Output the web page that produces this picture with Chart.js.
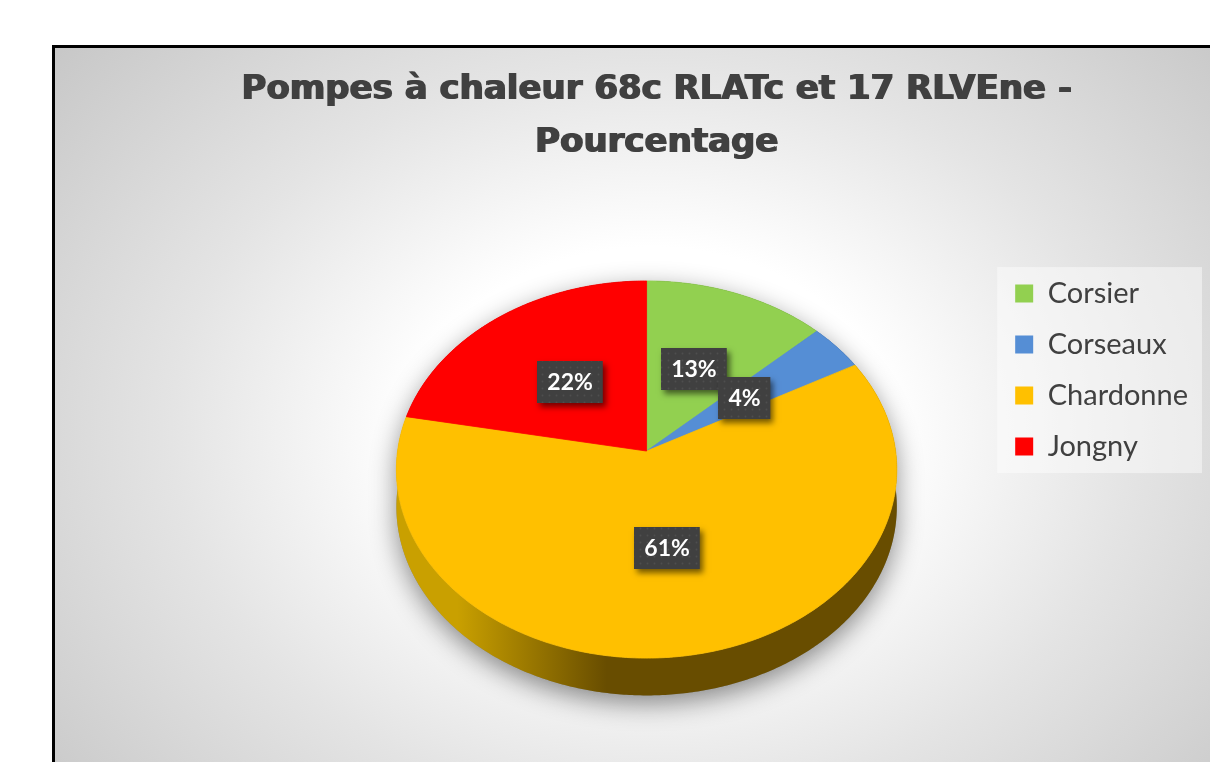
<!DOCTYPE html>
<html>
<head>
<meta charset="utf-8">
<title>Pompes à chaleur - Pourcentage</title>
<script src="https://cdn.jsdelivr.net/npm/chart.js@4.4.1/dist/chart.umd.min.js"></script>
<style>
  html, body { margin: 0; padding: 0; background: #fff; overflow: hidden; }
  #cadre {
    position: absolute; left: 52px; top: 45px; width: 1200px; height: 780px;
    box-sizing: border-box; border: 3px solid #000;
    background: radial-gradient(ellipse 800px 620px at 596px 385px, #fff 0%, #fff 30%, #e4e4e4 60%, #c5c5c5 100%);
  }
  #zone { position: absolute; left: 0; top: 0; width: 1210px; height: 762px; }
</style>
</head>
<body>
<div id="cadre"></div>
<div id="zone"><canvas id="camembert"></canvas></div>
<script>
// données
const communes     = ['Corsier', 'Corseaux', 'Chardonne', 'Jongny'];
const pourcentages = [13, 4, 61, 22];

// couleurs (dessus / flanc clair / flanc sombre)
const couleurs      = ['#92D050', '#558ED5', '#FFC000', '#FF0000'];
const flancClair    = ['#6F9F3D', '#3F6CA6', '#C9A000', '#C00000'];
const flancSombre   = ['#3F5E20', '#24406A', '#684D00', '#700000'];

// géométrie 3D (inclinaison, perspective, épaisseur) en fraction du rayon
const INCLINAISON = 0.75;
const PERSPECTIVE = 0.098;
const EPAISSEUR   = 0.15;

function projette(arc, angle, frac, chute) {
  const u = frac * Math.cos(angle);
  const v = -frac * Math.sin(angle);
  const d = 1 + PERSPECTIVE * v;
  return [arc.x + arc.outerRadius * u / d,
          arc.y - INCLINAISON * arc.outerRadius * v / d + chute];
}

function traceArc(ctx, arc, a0, a1, chute, premier) {
  const n = Math.max(2, Math.ceil(Math.abs(a1 - a0) / 0.01));
  for (let i = 0; i <= n; i++) {
    const p = projette(arc, a0 + (a1 - a0) * i / n, 1, chute);
    if (i === 0 && premier) ctx.moveTo(p[0], p[1]); else ctx.lineTo(p[0], p[1]);
  }
}

const motif = (() => {
  const c = document.createElement('canvas');
  c.width = 7; c.height = 7;
  const g = c.getContext('2d');
  g.fillStyle = '#404040'; g.fillRect(0, 0, 7, 7);
  g.fillStyle = '#4e4e4e'; g.beginPath(); g.arc(3.5, 3.5, 1, 0, Math.PI * 2); g.fill();
  return c;
})();

const camembert3d = {
  id: 'camembert3d',
  afterLayout(chart) {
    // titre centré sur tout le cadre, légende plus haut que le centre du camembert
    const tb = chart.titleBlock;
    tb.left = 102;
    tb.right = chart.width;
    if (!tb._epais) {
      // titre plus gras (type Arial Black) : petite ombre de la même couleur
      const dessin = tb.draw;
      tb.draw = function (area) {
        const ctx = this.ctx;
        ctx.save();
        ctx.shadowColor = '#404040';
        ctx.shadowOffsetX = 1.6;
        ctx.shadowBlur = 0.6;
        dessin.call(this, area);
        ctx.restore();
      };
      tb._epais = true;
    }
    const lg = chart.legend;
    lg.top += 77; lg.bottom += 77;
  },
  beforeDraw(chart) {
    const lg = chart.legend;
    const ctx = chart.ctx;
    const boites = lg.legendHitBoxes;
    if (!boites || !boites.length) return;
    const dernier = boites[boites.length - 1];
    const haut = boites[0].top - 12;
    const bas = dernier.top + dernier.height + 12;
    ctx.save();
    ctx.fillStyle = 'rgba(255,255,255,0.45)';
    ctx.fillRect(lg.left + 4, haut, chart.width - 8 - (lg.left + 4), bas - haut);
    ctx.restore();
  },
  beforeDatasetsDraw(chart) {
    const ctx = chart.ctx;
    const arcs = chart.getDatasetMeta(0).data;
    if (!arcs.length) return false;
    const a = arcs[0];
    const T = EPAISSEUR * a.outerRadius;

    // ombre portée
    ctx.save();
    ctx.shadowColor = 'rgba(0,0,0,0.45)';
    ctx.shadowBlur = 26;
    ctx.shadowOffsetY = 8;
    ctx.fillStyle = '#8a8a8a';
    ctx.beginPath();
    traceArc(ctx, a, 0, Math.PI * 2, 0, true); ctx.closePath();
    traceArc(ctx, a, 0, Math.PI * 2, T, true); ctx.closePath();
    ctx.fill();
    ctx.restore();

    // flancs
    arcs.forEach((arc, i) => {
      const g = ctx.createLinearGradient(arc.x - arc.outerRadius, 0, arc.x + arc.outerRadius, 0);
      g.addColorStop(0, flancClair[i]);
      g.addColorStop(0.12, flancClair[i]);
      g.addColorStop(0.42, flancSombre[i]);
      g.addColorStop(1, flancSombre[i]);
      ctx.fillStyle = g;
      ctx.beginPath();
      traceArc(ctx, arc, arc.startAngle, arc.endAngle, 0, true);
      traceArc(ctx, arc, arc.endAngle, arc.startAngle, T, false);
      ctx.closePath();
      ctx.fill();
    });

    // dessus
    arcs.forEach((arc, i) => {
      const c = projette(arc, 0, 0, 0);
      ctx.fillStyle = couleurs[i];
      ctx.strokeStyle = couleurs[i];
      ctx.lineWidth = 0.8;
      ctx.beginPath();
      ctx.moveTo(c[0], c[1]);
      traceArc(ctx, arc, arc.startAngle, arc.endAngle, 0, false);
      ctx.closePath();
      ctx.fill();
      ctx.stroke();
    });
    return false;
  },
  afterDraw(chart) {
    const ctx = chart.ctx;
    const arcs = chart.getDatasetMeta(0).data;
    const fond = ctx.createPattern(motif, 'repeat');
    ctx.save();
    ctx.font = 'bold 23px Lato';
    ctx.textAlign = 'center';
    ctx.textBaseline = 'middle';
    arcs.forEach((arc, i) => {
      const mid = (arc.startAngle + arc.endAngle) / 2;
      const p = projette(arc, mid, 0.5, 0);
      const txt = pourcentages[i] + '%';
      const w = ctx.measureText(txt).width + 20, h = 42;
      const x = Math.round(p[0] - w / 2), y = Math.round(p[1] - h / 2);
      ctx.save();
      ctx.shadowColor = 'rgba(0,0,0,0.55)';
      ctx.shadowBlur = 6;
      ctx.shadowOffsetX = 3;
      ctx.shadowOffsetY = 4;
      ctx.fillStyle = '#404040';
      ctx.fillRect(x, y, w, h);
      ctx.restore();
      ctx.fillStyle = fond;
      ctx.fillRect(x, y, w, h);
      ctx.fillStyle = '#ffffff';
      ctx.fillText(txt, p[0], p[1] + 1);
    });
    ctx.restore();
  }
};

new Chart(document.getElementById('camembert'), {
  type: 'pie',
  data: {
    labels: communes,
    datasets: [{
      data: pourcentages,
      backgroundColor: couleurs,
      borderWidth: 0
    }]
  },
  options: {
    responsive: true,
    maintainAspectRatio: false,
    animation: false,
    radius: 249,
    layout: { padding: { left: 300, right: 12, top: 0, bottom: 40 } },
    plugins: {
      title: {
        display: true,
        text: ['Pompes à chaleur 68c RLATc et 17 RLVEne -', 'Pourcentage'],
        color: '#404040',
        font: { family: 'DejaVu Sans', weight: 'bold', size: 34, lineHeight: 1.56 },
        padding: { top: 64, bottom: 10 }
      },
      legend: {
        position: 'right',
        align: 'start',
        fullSize: false,
        labels: {
          color: '#404040',
          boxWidth: 18,
          boxHeight: 18,
          padding: 22,
          font: { family: 'Lato', size: 29 }
        }
      },
      tooltip: { enabled: false }
    }
  },
  plugins: [camembert3d]
});
</script>
</body>
</html>
